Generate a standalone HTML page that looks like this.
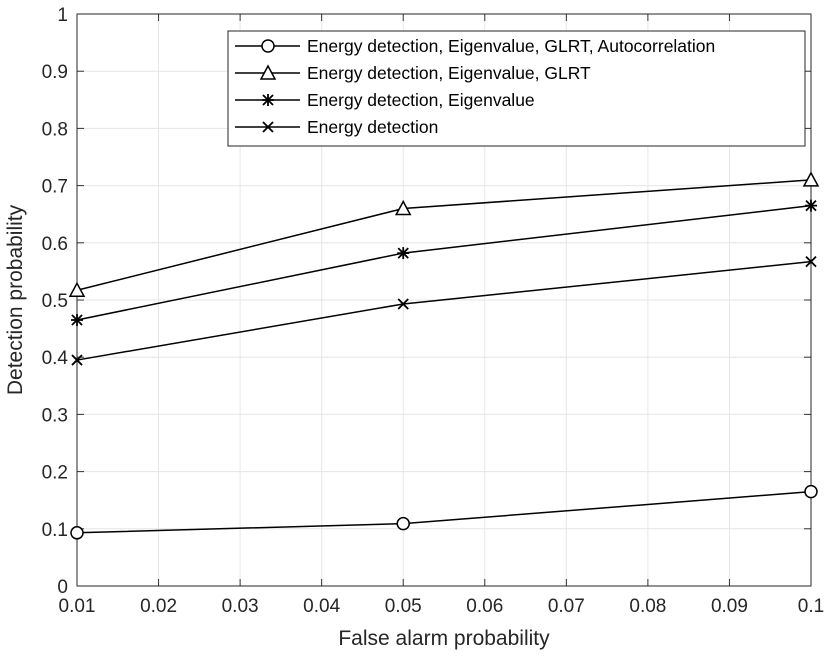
<!DOCTYPE html>
<html><head><meta charset="utf-8"><style>body{margin:0;background:#fff}svg{display:block;font-family:"Liberation Sans",sans-serif}</style></head>
<body>
<svg id="chart" width="827" height="661"></svg>
<script>
const xTicks=[0.01,0.02,0.03,0.04,0.05,0.06,0.07,0.08,0.09,0.1];
const xTickLabels=["0.01","0.02","0.03","0.04","0.05","0.06","0.07","0.08","0.09","0.1"];
const yTicks=[0,0.1,0.2,0.3,0.4,0.5,0.6,0.7,0.8,0.9,1];
const yTickLabels=["0","0.1","0.2","0.3","0.4","0.5","0.6","0.7","0.8","0.9","1"];
const xValues=[0.01,0.05,0.1];
const seriesNames=["Energy detection, Eigenvalue, GLRT, Autocorrelation","Energy detection, Eigenvalue, GLRT","Energy detection, Eigenvalue","Energy detection"];
const seriesMarkers=["circle","triangle","star","x"];
const sCircle=[0.093,0.109,0.165];
const sTriangle=[0.517,0.66,0.71];
const sStar=[0.465,0.582,0.665];
const sX=[0.395,0.493,0.567];
const seriesValues=[sCircle,sTriangle,sStar,sX];

const L=77,R=811,T=14,B=586;
const sx=v=>L+(v-0.01)/(0.1-0.01)*(R-L);
const sy=v=>B-v*(B-T);
const svg=document.getElementById('chart');
const NS='http://www.w3.org/2000/svg';
function mk(tag,attrs,parent){const e=document.createElementNS(NS,tag);for(const k in attrs)e.setAttribute(k,attrs[k]);(parent||svg).appendChild(e);return e;}
mk('rect',{x:L,y:T,width:R-L,height:B-T,fill:'#fff'});
xTicks.forEach((t,i)=>{const x=sx(t);
 const g=mk('line',{x1:x,x2:x,y1:T,y2:B,stroke:'#e6e6e6','stroke-width':1});
 
 
 mk('line',{x1:x,x2:x,y1:B,y2:B-7,stroke:'#333'});mk('line',{x1:x,x2:x,y1:T,y2:T+7,stroke:'#333'});
 const tx=mk('text',{x:x,y:B+26,'text-anchor':'middle','font-size':19,fill:'#262626'});tx.textContent=xTickLabels[i];
 
 
});
yTicks.forEach((t,i)=>{const y=sy(t);
 const g=mk('line',{x1:L,x2:R,y1:y,y2:y,stroke:'#e6e6e6','stroke-width':1});
 
 
 mk('line',{x1:L,x2:L+7,y1:y,y2:y,stroke:'#333'});mk('line',{x1:R,x2:R-7,y1:y,y2:y,stroke:'#333'});
 const tx=mk('text',{x:L-9,y:y+7,'text-anchor':'end','font-size':19,fill:'#262626'});tx.textContent=yTickLabels[i];
 
 
});
const ax=mk('rect',{x:L,y:T,width:R-L,height:B-T,fill:'none',stroke:'#262626','stroke-width':1});


const xt=mk('text',{x:(L+R)/2,y:645,'text-anchor':'middle','font-size':21,fill:'#262626'});xt.textContent='False alarm probability';


const yt=mk('text',{x:0,y:0,'text-anchor':'middle','font-size':21,fill:'#262626',transform:`translate(22,${(T+B)/2}) rotate(-90)`});yt.textContent='Detection probability';



function marker(type,x,y,g){
 if(type==='circle')mk('circle',{cx:x,cy:y,r:6,fill:'#fff',stroke:'#000','stroke-width':1.5},g);
 else if(type==='triangle')mk('polygon',{points:`${x},${y-7} ${x-7},${y+6} ${x+7},${y+6}`,fill:'#fff',stroke:'#000','stroke-width':1.5},g);
 else if(type==='x'){mk('path',{d:`M${x-5},${y-5}L${x+5},${y+5}M${x-5},${y+5}L${x+5},${y-5}`,stroke:'#000','stroke-width':1.8},g);}
 else {mk('path',{d:`M${x-5},${y-5}L${x+5},${y+5}M${x-5},${y+5}L${x+5},${y-5}M${x},${y-6}L${x},${y+6}M${x-6},${y}L${x+6},${y}`,stroke:'#000','stroke-width':1.8},g);}
}
seriesValues.forEach((vals,si)=>{
 const g=mk('g',{});
 
 
 const pts=vals.map((v,i)=>sx(xValues[i])+','+sy(v)).join(' ');
 mk('polyline',{points:pts,fill:'none',stroke:'#000','stroke-width':1.5},g);
 vals.forEach((v,i)=>marker(seriesMarkers[si],sx(xValues[i]),sy(v),g));
});
const lg=mk('g',{});


mk('rect',{x:228,y:31,width:577,height:115,fill:'#fff',stroke:'#262626','stroke-width':1},lg);
seriesNames.forEach((n,i)=>{const y=46+i*27;
 const e=mk('g',{},lg);
 
 
 mk('line',{x1:235,x2:300,y1:y,y2:y,stroke:'#000','stroke-width':1.5},e);
 marker(seriesMarkers[i],268,y,e);
 const t=mk('text',{x:307,y:y+6,'font-size':17.5,fill:'#000'},e);t.textContent=n;
});
</script>
</body></html>
